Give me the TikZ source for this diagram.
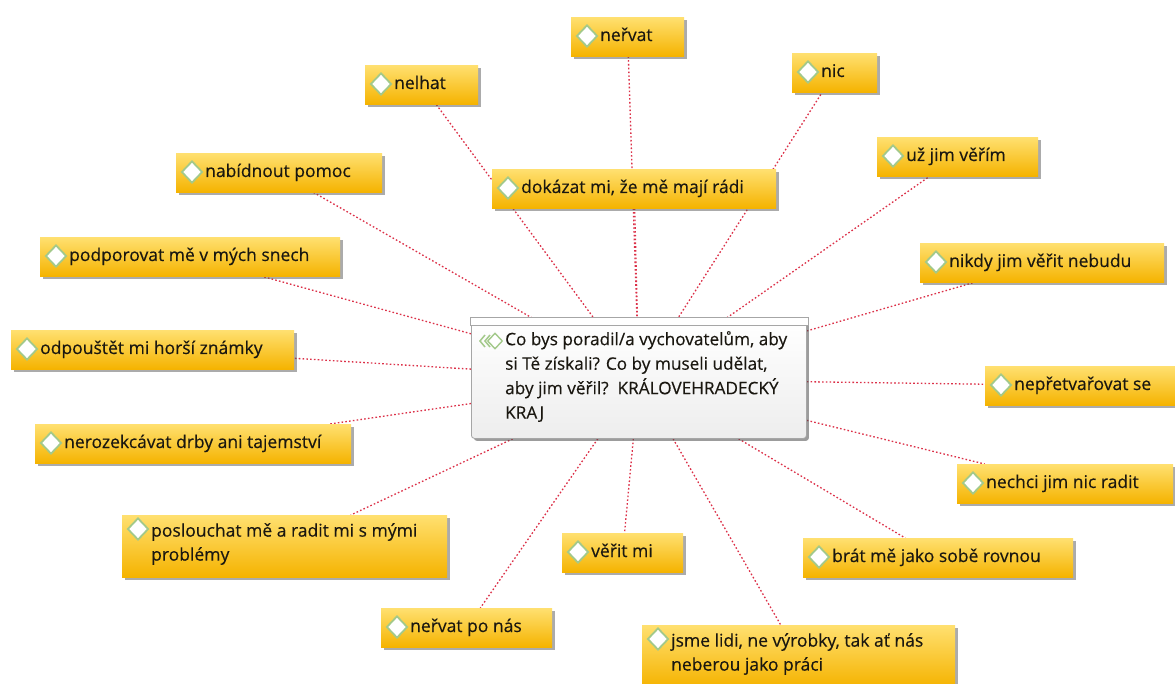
\documentclass[tikz,border=0pt]{standalone}
\usepackage{fontspec}
\setmainfont{Open Sans}[FakeBold=0.35]
\usetikzlibrary{shapes.geometric,shadows,backgrounds,calc}
\definecolor{linkred}{HTML}{DC3048}
\definecolor{boxtop}{HTML}{FFE070}
\definecolor{boxbot}{HTML}{F5B300}
\definecolor{diagreen}{HTML}{A3C98A}
\definecolor{txt}{HTML}{1A1710}
\tikzset{
  x=1pt, y=-1pt,
  ybox/.style={anchor=north west, inner sep=0pt, rectangle, draw=none,
    top color=boxtop, bottom color=boxbot,
    drop shadow={shadow xshift=2.5pt, shadow yshift=-2.5pt, fill=black!65, opacity=0.5}},
  cbox/.style={anchor=north west, inner sep=0pt, rectangle, rounded corners=3pt,
    draw=gray!70, line width=0.8pt, top color=white, bottom color=gray!14,
    drop shadow={shadow xshift=2.5pt, shadow yshift=-2.5pt, fill=black!70, opacity=0.55}},
  strip/.style={anchor=north west, inner sep=0pt, rectangle, draw=gray!70, line width=0.8pt, fill=white},
  dia/.style={diamond, shape aspect=1, inner sep=0pt, minimum width=21pt, minimum height=22pt,
    fill=white, draw=diagreen, line width=1.8pt},
  lbl/.style={inner sep=0pt, text=txt, align=left, font=\fontsize{17.5pt}{24pt}\selectfont},
  link/.style={draw=linkred, line width=1.3pt, dash pattern=on 1.6pt off 2.2pt},
}
% name, left, top, width, text (single line)
\newcommand\myboxone[5]{%
  \node[ybox, minimum width=#4pt, minimum height=39pt] (#1) at (#2,#3) {};
  \node[dia] (#1d) at (#2+16,#3+19) {};
  \node[lbl, anchor=base west] (#1t) at (#2+29,#3+24) {#5};
}
% name, left, top, width, text (two lines)
\newcommand\myboxtwo[5]{%
  \node[ybox, minimum width=#4pt, minimum height=62pt] (#1) at (#2,#3) {};
  \node[dia] (#1d) at (#2+16,#3+14) {};
  \node[lbl, anchor=north west] (#1t) at (#2+29,#3+8) {#5};
}
\begin{document}
\begin{tikzpicture}
\useasboundingbox (0,0) rectangle (1175,684);
\clip (0,0) rectangle (1175,684);

% centre topic
\node[cbox, minimum width=335pt, minimum height=118pt] (c) at (471,320) {};
\node[strip, minimum width=338pt, minimum height=8pt] (cs) at (470,317) {};
\node[lbl, anchor=north west, font=\fontsize{17.2pt}{24.5pt}\selectfont] (ct) at (505,331)
  {Co bys poradil/a vychovatelům, aby\\si Tě získali? Co by museli udělat,\\aby jim věřil?\ \ KRÁLOVEHRADECKÝ\\KRAJ};
\node[dia, minimum width=15pt, minimum height=16pt, line width=1.4pt] (cd) at (495,341) {};
\draw[diagreen, line width=1.5pt] (485,335) -- (480,341) -- (485,347)
      (490,335) -- (485,341) -- (490,347);

% subtopics
\myboxone{n1}{571}{17}{113}{neřvat}
\myboxone{n2}{365}{65}{113}{nelhat}
\myboxone{n3}{792}{53}{85}{nic}
\myboxone{n4}{176}{153}{206}{nabídnout pomoc}
\myboxone{n5}{492}{169}{284}{dokázat mi, že mě mají rádi}
\myboxone{n6}{877}{137}{161}{už jim věřím}
\myboxone{n7}{40}{237}{300}{podporovat mě v mých snech}
\myboxone{n8}{920}{243}{244}{nikdy jim věřit nebudu}
\myboxone{n9}{11}{330}{283}{odpouštět mi horší známky}
\myboxone{n10}{985}{366}{210}{nepřetvařovat se}
\myboxone{n11}{35}{424}{316}{nerozekcávat drby ani tajemství}
\myboxone{n12}{957}{464}{216}{nechci jim nic radit}
\myboxtwo{n13}{122}{515}{325}{poslouchat mě a radit mi s mými\\problémy}
\myboxone{n14}{562}{533}{121}{věřit mi}
\myboxone{n15}{803}{538}{270}{brát mě jako sobě rovnou}
\myboxone{n16}{381}{608}{171}{neřvat po nás}
\myboxtwo{n17}{642}{625}{313}{jsme lidi, ne výrobky, tak ať nás\\neberou jako práci}

\begin{pgfonlayer}{background}
  \fill[white] (0,0) rectangle (1175,684);
  \foreach \n in {n1,n2,n3,n4,n5,n6,n7,n8,n9,n10,n11,n12,n13,n14,n15,n16,n17}
    \draw[link] (c) -- (\n);
\end{pgfonlayer}
\end{tikzpicture}
\end{document}
